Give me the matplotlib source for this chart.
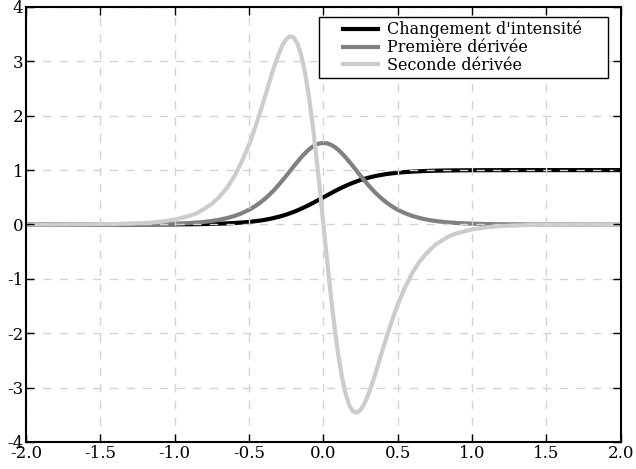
import numpy as np
import matplotlib
matplotlib.use('Agg')
import matplotlib.pyplot as plt
from matplotlib.legend_handler import HandlerLine2D
from matplotlib.lines import Line2D

x_pos = [0.0, 0.025, 0.05, 0.075, 0.1, 0.125, 0.15, 0.175, 0.2, 0.225, 0.25,
         0.275, 0.3, 0.325, 0.35, 0.375, 0.4, 0.425, 0.45, 0.475, 0.5,
         0.55, 0.6, 0.65, 0.7, 0.75, 0.8, 0.85, 0.9,
         1.0, 1.1, 1.2, 1.4, 1.75, 2.0]
intensite_pos = [0.500, 0.537, 0.574, 0.611, 0.646, 0.679, 0.711, 0.741, 0.769,
                 0.794, 0.818, 0.839, 0.858, 0.875, 0.891, 0.905, 0.917, 0.928,
                 0.937, 0.945, 0.953,
                 0.964, 0.973, 0.980, 0.985, 0.989, 0.992, 0.994, 0.9955,
                 0.9975, 0.9986, 0.9993, 0.9998, 1.0, 1.0]
derivee1_pos = [1.500, 1.492, 1.467, 1.427, 1.373, 1.307, 1.233, 1.152, 1.068,
                0.981, 0.895, 0.811, 0.731, 0.654, 0.583, 0.518, 0.458, 0.403,
                0.354, 0.310, 0.271,
                0.206, 0.155, 0.117, 0.087, 0.065, 0.049, 0.036, 0.027,
                0.015, 0.008, 0.0045, 0.0014, 0.0002, 0.0]
derivee2_pos = [0.0, -0.67, -1.31, -1.89, -2.40, -2.81, -3.12, -3.33, -3.44,
                -3.46, -3.41, -3.30, -3.14, -2.95, -2.74, -2.51, -2.29, -2.07,
                -1.86, -1.66, -1.47,
                -1.15, -0.88, -0.67, -0.51, -0.38, -0.29, -0.21, -0.16,
                -0.09, -0.05, -0.027, -0.008, -0.001, 0.0]

labels = ["Changement d'intensité", "Première dérivée", "Seconde dérivée"]
couleurs = ['black', 'gray', '#cccccc']


def miroir(xp, yp, mode='pair'):
    # reconstruit la partie x < 0 à partir des valeurs x >= 0
    xp = np.asarray(xp)
    yp = np.asarray(yp)
    x = np.concatenate([-xp[:0:-1], xp])
    if mode == 'pair':
        gauche = yp[:0:-1]
    elif mode == 'impair':
        gauche = -yp[:0:-1]
    else:  # sigmoïde : s(-x) = 1 - s(x)
        gauche = 1 - yp[:0:-1]
    return x, np.concatenate([gauche, yp])


def main():
    plt.rcParams['font.family'] = 'DejaVu Serif'
    plt.rcParams['axes.unicode_minus'] = False
    plt.rcParams['xtick.direction'] = 'in'
    plt.rcParams['ytick.direction'] = 'in'
    plt.rcParams['xtick.top'] = True
    plt.rcParams['ytick.right'] = True

    fig = plt.figure(figsize=(6.36, 4.69), dpi=100)
    ax = fig.add_axes([0.041, 0.0576, 0.935, 0.9275])

    x, s = miroir(x_pos, intensite_pos, 'sigmoide')
    _, d1 = miroir(x_pos, derivee1_pos, 'pair')
    _, d2 = miroir(x_pos, derivee2_pos, 'impair')

    for y, lab, c in zip([s, d1, d2], labels, couleurs):
        ax.plot(x, y, color=c, lw=3, label=lab, solid_joinstyle='round')

    ax.set_xlim(-2, 2)
    ax.set_ylim(-4, 4)
    ax.set_xticks(np.arange(-2, 2.01, 0.5))
    ax.set_yticks(range(-4, 5))
    ax.tick_params(labelsize=12, length=6, width=1, pad=2)
    ax.grid(True, ls=(0, (6, 6)), color='#d3d3d3', lw=1)
    ax.set_axisbelow(False)
    for sp in ax.spines.values():
        sp.set_linewidth(1.5)
        sp.set_zorder(4)

    # légende à l'ancienne : large marge à gauche et à droite
    leg = ax.legend(loc='upper right', bbox_to_anchor=(0.493, 0.5, 0.486, 0.477),
                    mode='expand', fontsize=11.5, fancybox=False,
                    framealpha=1, edgecolor='black', borderpad=0.25,
                    labelspacing=0.05, handlelength=3.42, handletextpad=0.56,
                    borderaxespad=0,
                    handler_map={Line2D: HandlerLine2D(xpad=1.25)})
    leg.get_frame().set_linewidth(1)

    fig.savefig('out.png', dpi=100)


if __name__ == '__main__':
    main()
